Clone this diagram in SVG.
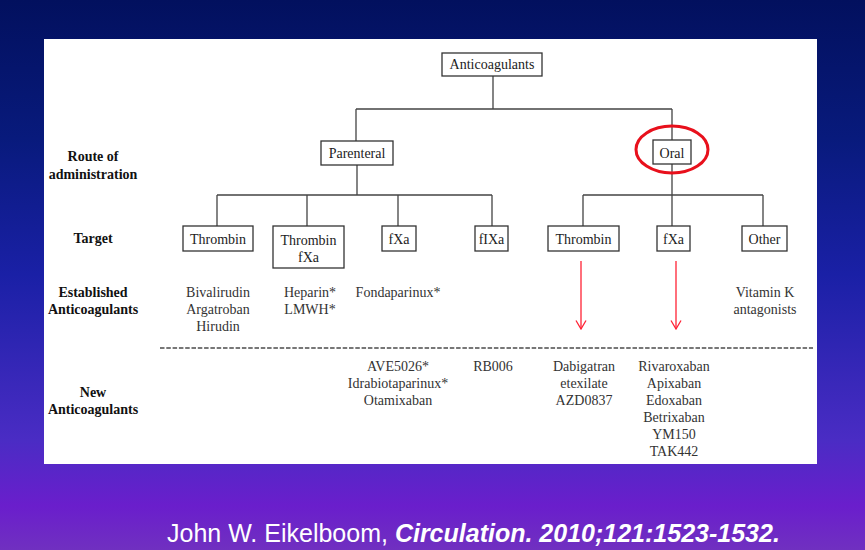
<svg xmlns="http://www.w3.org/2000/svg" width="865" height="550" viewBox="0 0 865 550">
<defs>
<linearGradient id="bg" x1="0" y1="0" x2="0" y2="1">
<stop offset="0" stop-color="#02105e"/>
<stop offset="0.25" stop-color="#081a7c"/>
<stop offset="0.5" stop-color="#1a20a6"/>
<stop offset="0.8" stop-color="#4a2cc4"/>
<stop offset="0.92" stop-color="#6a1ecc"/>
<stop offset="1" stop-color="#7030c0"/>
</linearGradient>
<marker id="arr" viewBox="0 0 12 12" refX="11" refY="6" markerWidth="12" markerHeight="12" markerUnits="userSpaceOnUse" orient="auto">
<path d="M2.5,1 L11,6 L2.5,11" fill="none" stroke="#ff2235" stroke-width="1.3"/>
</marker>
</defs>
<style>
.box{fill:#fff;stroke:#333;stroke-width:1.3}
.bt{font-family:"Liberation Serif",serif;font-size:14px;fill:#222;text-anchor:middle}
.dt{font-family:"Liberation Serif",serif;font-size:14px;fill:#333;text-anchor:middle}
.lb{font-family:"Liberation Serif",serif;font-size:14px;font-weight:bold;fill:#111;text-anchor:middle}
.ln{stroke:#444;stroke-width:1.3;fill:none}
.red{stroke:#ff2235;stroke-width:1.3;fill:none}
</style>
<rect width="865" height="550" fill="url(#bg)"/>
<rect x="44" y="39" width="773" height="425" fill="#fff"/>

<g id="connectors">
<path class="ln" d="M493,76 V109 M356,109 H672 M356,109 V141 M672,109 V140"/>
<path class="ln" d="M357,165 V195 M217,195 H492 M217,195 V226 M307,195 V226 M398,195 V226 M492,195 V226"/>
<path class="ln" d="M672,164 V226 M583,195 H763 M583,195 V226 M763,195 V226"/>
<line x1="160" y1="348" x2="813" y2="348" stroke="#777" stroke-width="2" stroke-dasharray="4.5,1.8"/>
<line class="red" x1="581" y1="261" x2="581" y2="329" marker-end="url(#arr)"/>
<line class="red" x1="676" y1="261" x2="676" y2="329" marker-end="url(#arr)"/>
</g>

<g id="labels">
<text class="lb" x="93" y="161">Route of</text>
<text class="lb" x="93" y="179">administration</text>
<text class="lb" x="93" y="243">Target</text>
<text class="lb" x="93" y="297">Established</text>
<text class="lb" x="93" y="314">Anticoagulants</text>
<text class="lb" x="93" y="397">New</text>
<text class="lb" x="93" y="414">Anticoagulants</text>
</g>

<g id="anticoagulants"><rect class="box" x="442" y="53" width="100" height="23"/><text class="bt" x="492" y="69">Anticoagulants</text></g>
<g id="parenteral"><rect class="box" x="321" y="141" width="72" height="24"/><text class="bt" x="357" y="158">Parenteral</text></g>
<g id="oral"><rect class="box" x="653" y="140" width="38" height="24"/><text class="bt" x="672" y="158">Oral</text>
<ellipse cx="672" cy="149.5" rx="36" ry="23.5" fill="none" stroke="#e8101c" stroke-width="3"/></g>

<g id="p-thrombin"><rect class="box" x="183" y="226" width="70" height="25"/><text class="bt" x="218" y="244">Thrombin</text></g>
<g id="p-thrombin-fxa"><rect class="box" x="273" y="226" width="71" height="42"/><text class="bt" x="308.5" y="245">Thrombin</text><text class="bt" x="308.5" y="262">fXa</text></g>
<g id="p-fxa"><rect class="box" x="382" y="226" width="34" height="25"/><text class="bt" x="399" y="244">fXa</text></g>
<g id="p-fixa"><rect class="box" x="475" y="226" width="33" height="25"/><text class="bt" x="491.5" y="244">fIXa</text></g>
<g id="o-thrombin"><rect class="box" x="548" y="226" width="71" height="25"/><text class="bt" x="583.5" y="244">Thrombin</text></g>
<g id="o-fxa"><rect class="box" x="657" y="226" width="33" height="25"/><text class="bt" x="673.5" y="244">fXa</text></g>
<g id="o-other"><rect class="box" x="742" y="226" width="45" height="25"/><text class="bt" x="764.5" y="244">Other</text></g>

<g id="established">
<text class="dt" x="218" y="297">Bivalirudin</text>
<text class="dt" x="218" y="314">Argatroban</text>
<text class="dt" x="218" y="331">Hirudin</text>
<text class="dt" x="310" y="297">Heparin*</text>
<text class="dt" x="310" y="314">LMWH*</text>
<text class="dt" x="398" y="297">Fondaparinux*</text>
<text class="dt" x="765" y="297">Vitamin K</text>
<text class="dt" x="765" y="314">antagonists</text>
</g>

<g id="new">
<text class="dt" x="398" y="371">AVE5026*</text>
<text class="dt" x="398" y="388">Idrabiotaparinux*</text>
<text class="dt" x="398" y="405">Otamixaban</text>
<text class="dt" x="493" y="371">RB006</text>
<text class="dt" x="584" y="371">Dabigatran</text>
<text class="dt" x="584" y="388">etexilate</text>
<text class="dt" x="584" y="405">AZD0837</text>
<text class="dt" x="674" y="371">Rivaroxaban</text>
<text class="dt" x="674" y="388">Apixaban</text>
<text class="dt" x="674" y="405">Edoxaban</text>
<text class="dt" x="674" y="422">Betrixaban</text>
<text class="dt" x="674" y="439">YM150</text>
<text class="dt" x="674" y="456">TAK442</text>
</g>

<text x="167" y="542" font-family="'Liberation Sans',Arial,sans-serif" font-size="25" fill="#fff">John W. Eikelboom, <tspan font-weight="bold" font-style="italic">Circulation. 2010;121:1523-1532.</tspan></text>
</svg>
